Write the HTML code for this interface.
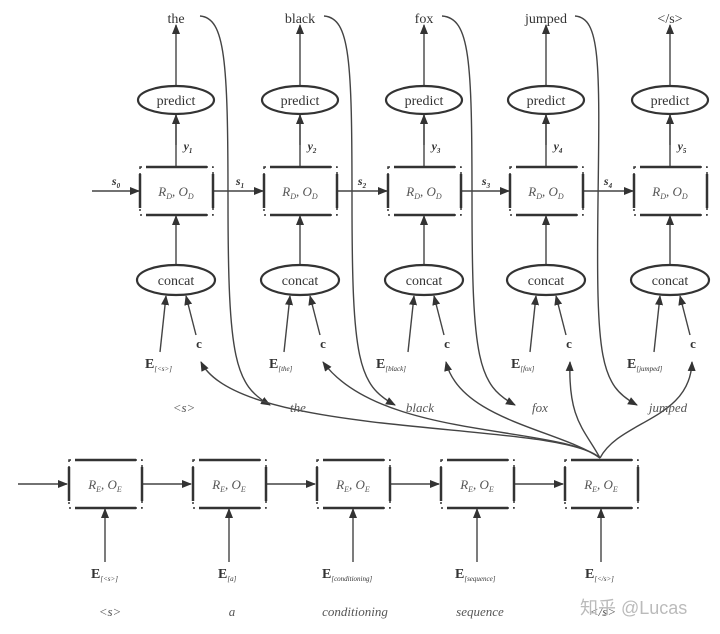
<!DOCTYPE html>
<html><head><meta charset="utf-8"><style>
html,body{margin:0;padding:0;background:#fff;}
svg{display:block;font-family:"Liberation Serif",serif;}
</style></head><body>
<svg width="720" height="634" viewBox="0 0 720 634" xmlns="http://www.w3.org/2000/svg">
<defs>
<marker id="a" markerWidth="10" markerHeight="8" refX="9" refY="4" orient="auto" markerUnits="userSpaceOnUse">
<path d="M0,0 L10,4 L0,8 z" fill="#333"/></marker>
<g id="box">
<rect x="-36" y="-24" width="73" height="48" fill="none" stroke="#333" stroke-width="1.5" stroke-dasharray="2,4"/>
<line x1="-30" y1="-24" x2="31" y2="-24" stroke="#333" stroke-width="2.5"/>
<line x1="-30" y1="24" x2="31" y2="24" stroke="#333" stroke-width="2.5"/>
<line x1="-36" y1="-17" x2="-36" y2="17" stroke="#333" stroke-width="2.5"/>
<line x1="37" y1="-17" x2="37" y2="17" stroke="#333" stroke-width="2.5"/>
</g>
</defs>
<g stroke="#444" stroke-width="1.4" fill="none">
<!-- top curves -->
<path d="M200,16 C225,18 228,60 228,200 C228,360 235,385 270,405" marker-end="url(#a)"/>
<path d="M324,16 C350,18 352,60 352,200 C352,360 358,385 395,405" marker-end="url(#a)"/>
<path d="M442,16 C470,18 472,60 472,200 C472,360 478,385 515,405" marker-end="url(#a)"/>
<path d="M575,16 C600,18 600,60 598,200 C596,360 600,385 637,405" marker-end="url(#a)"/>
<!-- fan -->
<path d="M600,458 C560,420 240,440 201,362" marker-end="url(#a)"/>
<path d="M600,458 C560,425 380,440 323,362" marker-end="url(#a)"/>
<path d="M600,458 C560,430 460,420 446,362" marker-end="url(#a)"/>
<path d="M600,458 C585,430 568,420 570,362" marker-end="url(#a)"/>
<path d="M600,458 C620,420 690,420 692,362" marker-end="url(#a)"/>
<!-- encoder arrows -->
<path d="M18,484 L67,484" marker-end="url(#a)"/>
<path d="M142,484 L191,484" marker-end="url(#a)"/>
<path d="M266,484 L315,484" marker-end="url(#a)"/>
<path d="M390,484 L439,484" marker-end="url(#a)"/>
<path d="M514,484 L563,484" marker-end="url(#a)"/>
<path d="M105,562 L105,509" marker-end="url(#a)"/>
<path d="M229,562 L229,509" marker-end="url(#a)"/>
<path d="M353,562 L353,509" marker-end="url(#a)"/>
<path d="M477,562 L477,509" marker-end="url(#a)"/>
<path d="M601,562 L601,509" marker-end="url(#a)"/>
<!-- decoder horizontal -->
<path d="M92,191 L139,191" marker-end="url(#a)"/>
<path d="M213,191 L263,191" marker-end="url(#a)"/>
<path d="M337,191 L387,191" marker-end="url(#a)"/>
<path d="M461,191 L509,191" marker-end="url(#a)"/>
<path d="M583,191 L633,191" marker-end="url(#a)"/>
</g>
<g id="dec">
</g>
<g stroke="#444" stroke-width="1.4" fill="none">
<path d="M176,145 L176,25" marker-end="url(#a)"/><path d="M176,166 L176,115" marker-end="url(#a)"/><path d="M176,265 L176,216" marker-end="url(#a)"/><path d="M160,352 L166,296" marker-end="url(#a)"/><path d="M196,335 L186,296" marker-end="url(#a)"/>
<path d="M300,145 L300,25" marker-end="url(#a)"/><path d="M300,166 L300,115" marker-end="url(#a)"/><path d="M300,265 L300,216" marker-end="url(#a)"/><path d="M284,352 L290,296" marker-end="url(#a)"/><path d="M320,335 L310,296" marker-end="url(#a)"/>
<path d="M424,145 L424,25" marker-end="url(#a)"/><path d="M424,166 L424,115" marker-end="url(#a)"/><path d="M424,265 L424,216" marker-end="url(#a)"/><path d="M408,352 L414,296" marker-end="url(#a)"/><path d="M444,335 L434,296" marker-end="url(#a)"/>
<path d="M546,145 L546,25" marker-end="url(#a)"/><path d="M546,166 L546,115" marker-end="url(#a)"/><path d="M546,265 L546,216" marker-end="url(#a)"/><path d="M530,352 L536,296" marker-end="url(#a)"/><path d="M566,335 L556,296" marker-end="url(#a)"/>
<path d="M670,145 L670,25" marker-end="url(#a)"/><path d="M670,166 L670,115" marker-end="url(#a)"/><path d="M670,265 L670,216" marker-end="url(#a)"/><path d="M654,352 L660,296" marker-end="url(#a)"/><path d="M690,335 L680,296" marker-end="url(#a)"/>
</g>
<g fill="#fff" stroke="#333" stroke-width="2.2">
<ellipse cx="176" cy="100" rx="38" ry="14"/><ellipse cx="300" cy="100" rx="38" ry="14"/><ellipse cx="424" cy="100" rx="38" ry="14"/><ellipse cx="546" cy="100" rx="38" ry="14"/><ellipse cx="670" cy="100" rx="38" ry="14"/>
<ellipse cx="176" cy="280" rx="39" ry="15"/><ellipse cx="300" cy="280" rx="39" ry="15"/><ellipse cx="424" cy="280" rx="39" ry="15"/><ellipse cx="546" cy="280" rx="39" ry="15"/><ellipse cx="670" cy="280" rx="39" ry="15"/>
</g>
<use href="#box" x="176" y="191"/><use href="#box" x="300" y="191"/><use href="#box" x="424" y="191"/><use href="#box" x="546" y="191"/><use href="#box" x="670" y="191"/>
<use href="#box" x="105" y="484"/><use href="#box" x="229" y="484"/><use href="#box" x="353" y="484"/><use href="#box" x="477" y="484"/><use href="#box" x="601" y="484"/>
<g fill="#333" font-size="14" text-anchor="middle">
<text x="176" y="23">the</text><text x="300" y="23">black</text><text x="424" y="23">fox</text><text x="546" y="23">jumped</text><text x="670" y="23">&lt;/s&gt;</text>
<g font-size="14"><text x="176" y="105">predict</text><text x="300" y="105">predict</text><text x="424" y="105">predict</text><text x="546" y="105">predict</text><text x="670" y="105">predict</text>
<text x="176" y="285">concat</text><text x="300" y="285">concat</text><text x="424" y="285">concat</text><text x="546" y="285">concat</text><text x="670" y="285">concat</text></g>
<g font-style="italic" font-size="13" fill="#555">
<text x="176" y="196">R<tspan font-size="8" dy="3">D</tspan><tspan dy="-3">, O</tspan><tspan font-size="8" dy="3">D</tspan></text>
<text x="300" y="196">R<tspan font-size="8" dy="3">D</tspan><tspan dy="-3">, O</tspan><tspan font-size="8" dy="3">D</tspan></text>
<text x="424" y="196">R<tspan font-size="8" dy="3">D</tspan><tspan dy="-3">, O</tspan><tspan font-size="8" dy="3">D</tspan></text>
<text x="546" y="196">R<tspan font-size="8" dy="3">D</tspan><tspan dy="-3">, O</tspan><tspan font-size="8" dy="3">D</tspan></text>
<text x="670" y="196">R<tspan font-size="8" dy="3">D</tspan><tspan dy="-3">, O</tspan><tspan font-size="8" dy="3">D</tspan></text>
<text x="105" y="489">R<tspan font-size="8" dy="3">E</tspan><tspan dy="-3">, O</tspan><tspan font-size="8" dy="3">E</tspan></text>
<text x="229" y="489">R<tspan font-size="8" dy="3">E</tspan><tspan dy="-3">, O</tspan><tspan font-size="8" dy="3">E</tspan></text>
<text x="353" y="489">R<tspan font-size="8" dy="3">E</tspan><tspan dy="-3">, O</tspan><tspan font-size="8" dy="3">E</tspan></text>
<text x="477" y="489">R<tspan font-size="8" dy="3">E</tspan><tspan dy="-3">, O</tspan><tspan font-size="8" dy="3">E</tspan></text>
<text x="601" y="489">R<tspan font-size="8" dy="3">E</tspan><tspan dy="-3">, O</tspan><tspan font-size="8" dy="3">E</tspan></text>
<text x="184" y="412">&lt;s&gt;</text><text x="298" y="412">the</text><text x="420" y="412">black</text><text x="540" y="412">fox</text><text x="668" y="412">jumped</text>
<text x="110" y="616">&lt;s&gt;</text><text x="232" y="616">a</text><text x="355" y="616">conditioning</text><text x="480" y="616">sequence</text><text x="603" y="616">&lt;/s&gt;</text>
</g>
<g font-weight="bold" font-style="italic" font-size="12">
<text x="188" y="150">y<tspan font-size="7" dy="3">1</tspan></text><text x="312" y="150">y<tspan font-size="7" dy="3">2</tspan></text><text x="436" y="150">y<tspan font-size="7" dy="3">3</tspan></text><text x="558" y="150">y<tspan font-size="7" dy="3">4</tspan></text><text x="682" y="150">y<tspan font-size="7" dy="3">5</tspan></text>
<text x="116" y="185">s<tspan font-size="7" dy="3">0</tspan></text><text x="240" y="185">s<tspan font-size="7" dy="3">1</tspan></text><text x="362" y="185">s<tspan font-size="7" dy="3">2</tspan></text><text x="486" y="185">s<tspan font-size="7" dy="3">3</tspan></text><text x="608" y="185">s<tspan font-size="7" dy="3">4</tspan></text>
</g>
<g font-weight="bold" font-size="13">
<text x="199" y="348">c</text><text x="323" y="348">c</text><text x="447" y="348">c</text><text x="569" y="348">c</text><text x="693" y="348">c</text>
</g>
<g font-weight="bold" font-size="14" text-anchor="start">
<text x="145" y="368">E<tspan font-size="7" font-weight="normal" font-style="italic" dy="3">[&lt;s&gt;]</tspan></text>
<text x="269" y="368">E<tspan font-size="7" font-weight="normal" font-style="italic" dy="3">[the]</tspan></text>
<text x="376" y="368">E<tspan font-size="7" font-weight="normal" font-style="italic" dy="3">[black]</tspan></text>
<text x="511" y="368">E<tspan font-size="7" font-weight="normal" font-style="italic" dy="3">[fox]</tspan></text>
<text x="627" y="368">E<tspan font-size="7" font-weight="normal" font-style="italic" dy="3">[jumped]</tspan></text>
<text x="91" y="578">E<tspan font-size="7" font-weight="normal" font-style="italic" dy="3">[&lt;s&gt;]</tspan></text>
<text x="218" y="578">E<tspan font-size="7" font-weight="normal" font-style="italic" dy="3">[a]</tspan></text>
<text x="322" y="578">E<tspan font-size="7" font-weight="normal" font-style="italic" dy="3">[conditioning]</tspan></text>
<text x="455" y="578">E<tspan font-size="7" font-weight="normal" font-style="italic" dy="3">[sequence]</tspan></text>
<text x="585" y="578">E<tspan font-size="7" font-weight="normal" font-style="italic" dy="3">[&lt;/s&gt;]</tspan></text>
</g>
</g>
<text x="580" y="614" font-family="'Liberation Sans','Noto Sans CJK SC',sans-serif" font-size="18" fill="#bbb">知乎 @Lucas</text>
</svg>
</body></html>
